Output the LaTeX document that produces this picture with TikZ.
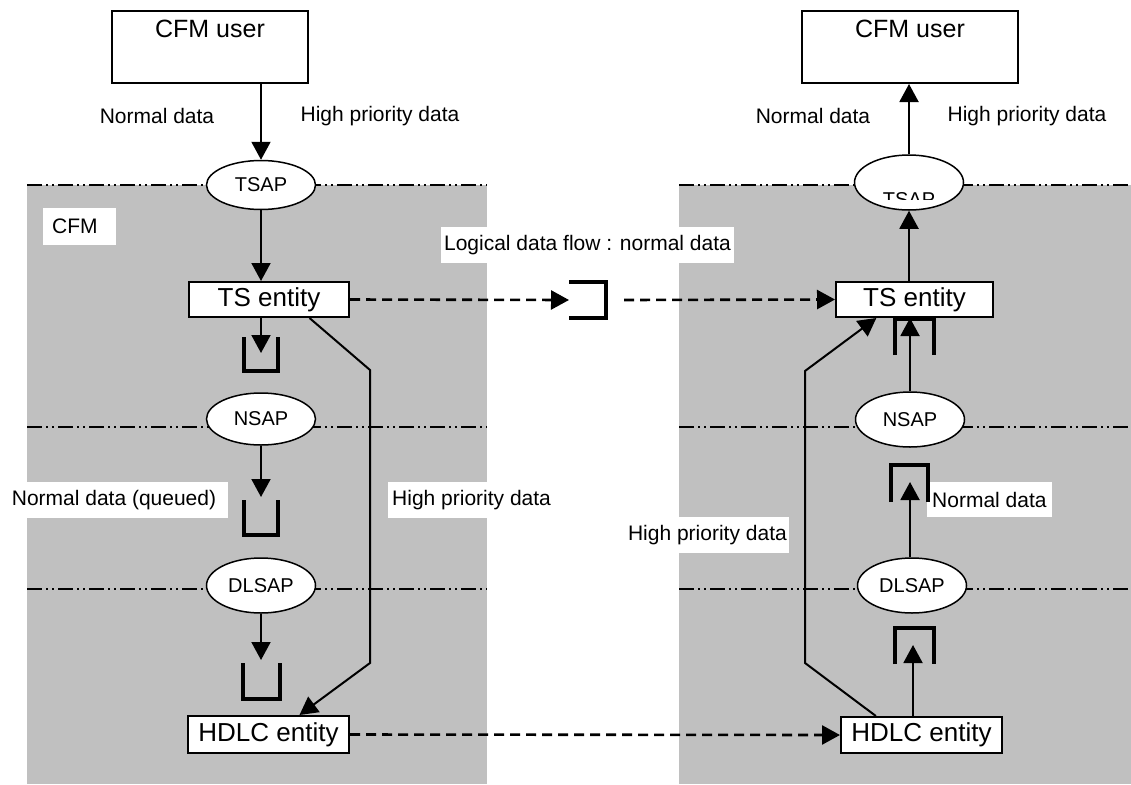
\documentclass[tikz,border=0pt]{standalone}
\usepackage{fontspec}
\setmainfont{Liberation Sans}
\usetikzlibrary{arrows.meta,shapes.geometric,calc}
\definecolor{panelgray}{RGB}{192,192,192}
\tikzset{
  lbl/.style={font=\fontsize{21}{25}\selectfont, inner sep=0pt},
  whitebox/.style={fill=white, font=\fontsize{21}{25}\selectfont, inner ysep=0pt},
  ent/.style={draw, line width=2pt, fill=white, inner sep=0pt, font=\fontsize{26}{30}\selectfont},
  userbox/.style={draw, line width=2pt, fill=white, inner sep=0pt, minimum height=72pt},
  sap/.style={ellipse, draw, line width=1.5pt, fill=white, inner sep=0pt,
    minimum width=109pt, minimum height=52pt, font=\fontsize{20}{24}\selectfont},
  conn/.style={line width=2pt, -{Triangle[length=18pt,width=19pt]}},
  dconn/.style={conn, line width=2.6pt, dash pattern=on 10pt off 6pt},
  layerline/.style={line width=1.6pt, dash pattern=on 15pt off 4pt on 2pt off 4pt on 2pt off 4pt},
  queue/.style={line width=4.8pt, line cap=butt, line join=miter},
}
\begin{document}
\begin{tikzpicture}[x=1pt,y=-1pt]
\useasboundingbox (0,0) rectangle (1131,784);
% panels
\fill[panelgray] (27,185) rectangle (487,784);
\fill[panelgray] (679,185) rectangle (1131,784);
% layer boundaries
\foreach \yy in {185,427,589} {
  \draw[layerline] (27,\yy) -- (487,\yy);
  \draw[layerline] (679,\yy) -- (1131,\yy);
}
% white labels
\node[whitebox, text width=55pt, align=left, inner xsep=9pt, minimum height=37pt, anchor=north west] (cfmlbl) at (43,208) {CFM};
\node[whitebox, minimum width=291pt, minimum height=36pt] (logical) at (587.5,245) {Logical data flow : normal data};
\node[whitebox, minimum width=228pt, minimum height=36pt] (nq) at (114,500) {Normal data (queued)};
\node[whitebox, inner xsep=4pt, minimum height=36pt, anchor=west] (hpL) at (388,500) {High priority data};
\node[whitebox, inner xsep=2pt, minimum height=36pt, anchor=east] (hpR) at (789,535) {High priority data};
\node[whitebox, inner xsep=5pt, minimum height=35pt, anchor=west] (ndR) at (927,499.5) {Normal data};
% top labels
\node[lbl] (ndTL) at (157,116) {Normal data};
\node[lbl] (hpTL) at (380,116) {High priority data};
\node[lbl] (ndTR) at (813,116) {Normal data};
\node[lbl] (hpTR) at (1027,116) {High priority data};
% user boxes
\node[userbox, minimum width=196pt, anchor=north west,
  label={[font=\fontsize{25}{30}\selectfont, anchor=north, inner sep=0pt, yshift=-10pt]north:CFM user}] (cfL) at (111,10) {};
\node[userbox, minimum width=216pt, anchor=north west,
  label={[font=\fontsize{25}{30}\selectfont, anchor=north, inner sep=0pt, yshift=-10pt]north:CFM user}] (cfR) at (801,10) {};
% SAPs
\node[sap, minimum height=49pt] (taL) at (261,185) {TSAP};
\node[sap] (naL) at (261,419) {NSAP};
\node[sap, minimum height=55pt] (dlL) at (261,585.5) {DLSAP};
\node[sap, minimum height=55pt] (taR) at (909,182.5) {};
\begin{scope}
  \clip (850,150) rectangle (970,199.5);
  \node[font=\fontsize{20}{24}\selectfont, inner sep=0pt, anchor=base] (taRtxt) at (909,206.5) {TSAP};
\end{scope}
\node[sap, minimum height=55pt] (naR) at (910,419.5) {NSAP};
\node[sap, minimum height=55pt] (dlR) at (912,585.5) {DLSAP};
% entities
\node[ent, minimum width=160pt, minimum height=35pt] (tsL) at (269,299.5) {TS entity};
\node[ent, minimum width=157pt, minimum height=35pt] (tsR) at (914.5,299.5) {TS entity};
\node[ent, minimum width=161pt, minimum height=37pt] (hdL) at (268.5,734.5) {HDLC entity};
\node[ent, minimum width=161pt, minimum height=36pt] (hdR) at (921.5,735) {HDLC entity};
% queue coordinates
\coordinate (q1L) at (261,353);
\coordinate (q2L) at (261,497);
\coordinate (q3L) at (261,660);
\coordinate (q2R) at (910,482);
\coordinate (q3R) at (913,645);
\coordinate (brkIn) at (569,300);
\coordinate (brkOut) at (624,300);
\coordinate (hpL1) at (370,370);
\coordinate (hpL2) at (370,663);
\coordinate (hpR1) at (805,663);
\coordinate (hpR2) at (805,371);
% queues
\draw[queue] (244,337) -- (244,371) -- (278,371) -- (278,337);
\draw[queue] (244,500) -- (244,535) -- (278,535) -- (278,500);
\draw[queue] (243,663) -- (243,699) -- (280,699) -- (280,663);
\draw[queue] (895,355) -- (895,318.5) -- (934,318.5) -- (934,355);
\draw[queue] (891,502) -- (891,465) -- (928,465) -- (928,502);
\draw[queue] (895,664) -- (895,628) -- (934,628) -- (934,664);
\draw[queue] (569,282) -- (606,282) -- (606,318) -- (569,318);
% left stack connectors
\draw[conn] (cfL.south -| taL) -- (taL.north);
\draw[conn] (taL.south) -- (taL.south |- tsL.north);
\draw[conn] (tsL.south -| q1L) -- (q1L);
\draw[conn] (naL.south) -- (naL.south |- q2L);
\draw[conn] (dlL.south) -- (dlL.south |- q3L);
\draw[conn] ($(tsL.south west)!0.75!(tsL.south east)$) -- (hpL1) -- (hpL2) -- ($(hdL.north west)!0.69!(hdL.north east)$);
% right stack connectors
\draw[conn] (taR.north) -- (taR.north |- cfR.south);
\draw[conn] (tsR.north -| taR) -- (taR.south);
\draw[conn] (naR.north) -- (naR.north |- tsR.south);
\draw[conn] (dlR.north -| q2R) -- (q2R);
\draw[conn] (hdR.north -| q3R) -- (q3R);
\draw[conn] ($(hdR.north west)!0.22!(hdR.north east)$) -- (hpR1) -- (hpR2) -- ($(tsR.south west)!0.26!(tsR.south east)$);
% peer flows
\draw[dconn] (tsL.east) -- (brkIn);
\draw[dconn] (brkOut) -- (tsR.west);
\draw[dconn] (hdL.east) -- (hdR.west);
\end{tikzpicture}
\end{document}
